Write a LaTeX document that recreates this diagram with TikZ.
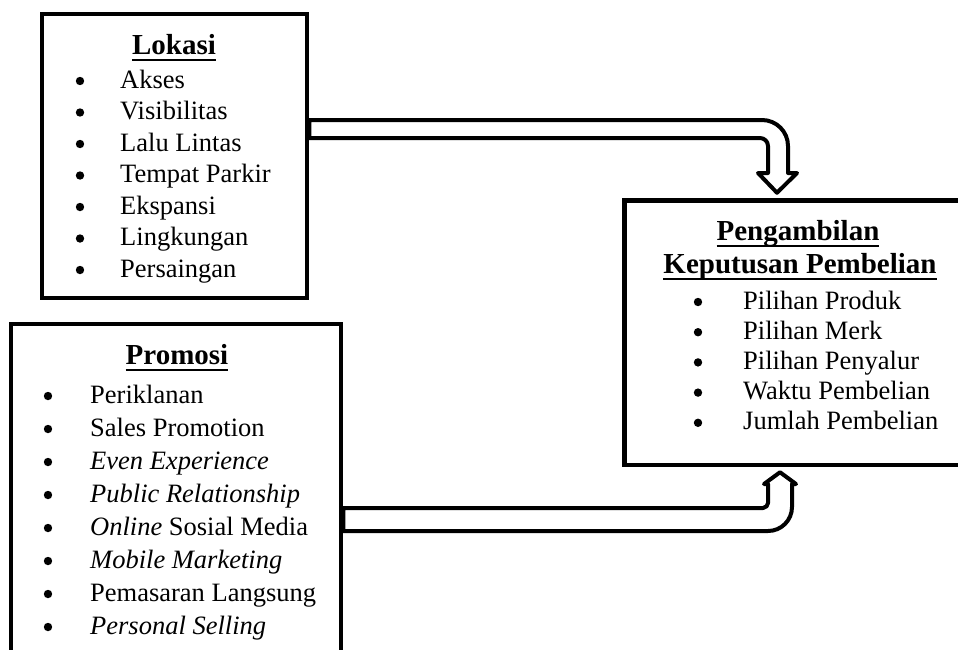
\documentclass[tikz,border=0pt]{standalone}
\usepackage{fontspec}
\setmainfont{Liberation Serif}
\usetikzlibrary{calc}

\newcommand{\undl}[1]{\setbox0=\hbox{#1}\rlap{\rule[-7pt]{\wd0}{2.5pt}}\box0}

\tikzset{
  box/.style={draw, line width=4.5pt, inner sep=0pt},
  heading/.style={anchor=base, inner sep=0pt, font=\bfseries\fontsize{29}{32}\selectfont},
  item/.style={anchor=base west, inner sep=0pt, font=\fontsize{26.5}{30}\selectfont},
  blockarrow/.style={draw, fill=white, line width=4pt, line join=round}
}

\begin{document}
\begin{tikzpicture}[x=1pt,y=-1pt]
    % Page (the boxes run past its edge)
    \useasboundingbox (0,0) rectangle (958,649);
    \clip (0,0) rectangle (958,649);

    % Boxes
    \node[box, minimum width=265pt, minimum height=284pt] (lokasi) at (174.5,156) {};
    \node[box, minimum width=330pt, minimum height=356pt] (promosi) at (176,502) {};
    \node[box, minimum width=347pt, minimum height=264.5pt] (keputusan) at (798,332.75) {};

    % Lokasi
    \node[heading] (lokasiT) at (174,54) {\undl{Lokasi}};
    \foreach \itm [count=\i from 0] in {Akses, Visibilitas, Lalu Lintas, Tempat Parkir,
      Ekspansi, Lingkungan, Persaingan} {
      \fill (80,{81+31.5*\i}) circle (4.2pt);
      \node[item] (lok\i) at (120,{88+31.5*\i}) {\itm};
    }

    % Promosi
    \node[heading] (promosiT) at (177,364) {\undl{Promosi}};
    \foreach \itm [count=\i from 0] in {Periklanan, Sales Promotion, \textit{Even Experience},
      \textit{Public Relationship}, \textit{Online} Sosial Media, \textit{Mobile Marketing},
      Pemasaran Langsung, \textit{Personal Selling}} {
      \fill (48,{396+33*\i}) circle (4.2pt);
      \node[item] (pro\i) at (90,{403+33*\i}) {\itm};
    }

    % Pengambilan Keputusan Pembelian
    \node[heading] (keputusanT1) at (798,240) {\undl{Pengambilan}};
    \node[heading] (keputusanT2) at (800,273) {\undl{Keputusan Pembelian}};
    \foreach \itm [count=\i from 0] in {Pilihan Produk, Pilihan Merk, Pilihan Penyalur,
      Waktu Pembelian, Jumlah Pembelian} {
      \fill (698,{302+30.2*\i}) circle (4.2pt);
      \node[item] (kep\i) at (743,{309+30.2*\i}) {\itm};
    }

    % Block arrow: Lokasi -> top of Keputusan
    \draw[blockarrow] (lokasi.east |- 0,120) -- (762,120)
      .. controls (776.4,120) and (788,131.6) .. (788,146) -- (788,173) -- (797,173)
      -- ($(777,0 |- keputusan.north)+(0,-5.5)$) -- (758,173) -- (768,173) -- (768,146)
      .. controls (768,141.6) and (764.4,138) .. (760,138) -- (lokasi.east |- 0,138) -- cycle;

    % Block arrow: Promosi -> bottom of Keputusan
    \draw[blockarrow] (promosi.east |- 0,508) -- (763,508)
      .. controls (765.8,508) and (768,505.2) .. (768,503) -- (768,484) -- (764,484)
      -- ($(780,0 |- keputusan.south)+(0,5)$) -- (796,484) -- (792,484) -- (792,507)
      .. controls (792,520.25) and (781.25,531) .. (768,531) -- (promosi.east |- 0,531) -- cycle;
\end{tikzpicture}
\end{document}
